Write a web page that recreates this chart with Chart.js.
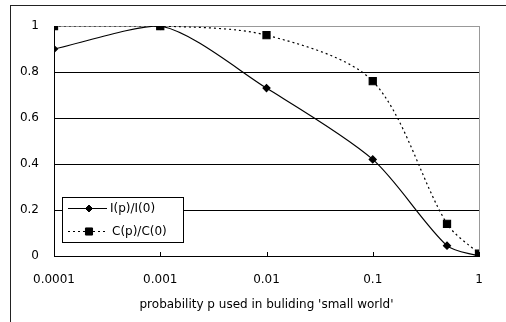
<!doctype html>
<html lang="en">
<head>
<meta charset="utf-8">
<script src="https://cdn.jsdelivr.net/npm/chart.js@4/dist/chart.umd.min.js"></script>
<style>
  html, body { margin: 0; padding: 0; background: #fff; }
  #frame { position: absolute; left: 10px; top: 5px; width: 600px; height: 400px; border: 1px solid #222; }
  #wrap { position: absolute; left: 0; top: 0; width: 506px; height: 322px; }
</style>
</head>
<body>
<div id="frame"></div>
<div id="wrap"><canvas id="chart"></canvas></div>
<script>
  // probability p (x values)
  const pValues = [0.0001, 0.001, 0.01, 0.1, 0.5, 1];
  // I(p)/I(0)
  const iRatio = [0.90, 1.0, 0.73, 0.42, 0.045, 0.0];
  // C(p)/C(0)
  const cRatio = [1.0, 1.0, 0.96, 0.76, 0.14, 0.01];
  // axis ticks
  const xTicks = [0.0001, 0.001, 0.01, 0.1, 1];
  const xTickLabels = ['0.0001', '0.001', '0.01', '0.1', '1'];
  const yTickLabels = ['0', '0.2', '0.4', '0.6', '0.8', '1'];

  const FONT = '"DejaVu Sans", sans-serif';

  // inside tick marks on the x axis + legend box inside plot
  const excelBits = {
    id: 'excelBits',
    afterDraw(chart) {
      const ctx = chart.ctx;
      const x = chart.scales.x;
      const area = chart.chartArea;
      ctx.save();
      ctx.strokeStyle = '#000';
      ctx.lineWidth = 1;
      x.ticks.forEach(t => {
        const px = Math.round(x.getPixelForValue(t.value)) + 0.5;
        ctx.beginPath();
        ctx.moveTo(px, area.bottom);
        ctx.lineTo(px, area.bottom - 4);
        ctx.stroke();
      });

      // legend
      const bx = 62.5, by = 197.5, bw = 121, bh = 45;
      ctx.fillStyle = '#fff';
      ctx.fillRect(bx, by, bw, bh);
      ctx.strokeRect(bx, by, bw, bh);
      const rows = [208, 231];
      chart.data.datasets.forEach((ds, i) => {
        const y = rows[i] + 0.5;
        ctx.save();
        ctx.strokeStyle = ds.borderColor;
        ctx.lineWidth = ds.borderWidth;
        ctx.setLineDash(ds.borderDash || []);
        ctx.beginPath();
        ctx.moveTo(68, y);
        ctx.lineTo(107, y);
        ctx.stroke();
        ctx.restore();
        ctx.fillStyle = '#000';
        ctx.strokeStyle = '#000';
        Chart.helpers.drawPoint(ctx, {
          pointStyle: ds.pointStyle,
          radius: ds.pointRadius,
          rotation: 0,
          borderWidth: 1
        }, 89, y);
        ctx.font = '12px ' + FONT;
        ctx.textBaseline = 'middle';
        ctx.textAlign = 'left';
        ctx.fillText(ds.label, i === 0 ? 110 : 112, y);
      });
      ctx.restore();
    }
  };

  new Chart(document.getElementById('chart'), {
    type: 'line',
    data: {
      datasets: [
        {
          label: 'I(p)/I(0)',
          data: pValues.map((p, i) => ({ x: p, y: iRatio[i] })),
          borderColor: '#000',
          backgroundColor: '#000',
          borderWidth: 1.2,
          pointStyle: 'rectRot',
          pointRadius: 3.5,
          tension: 0.28,
          fill: false
        },
        {
          label: 'C(p)/C(0)',
          data: pValues.map((p, i) => ({ x: p, y: cRatio[i] })),
          borderColor: '#000',
          backgroundColor: '#000',
          borderWidth: 1.2,
          borderDash: [2, 3],
          pointStyle: 'rect',
          pointRadius: 5,
          tension: 0.3,
          fill: false
        }
      ]
    },
    options: {
      responsive: true,
      maintainAspectRatio: false,
      animation: false,
      layout: { padding: { left: 0, top: 26, right: 27, bottom: 0 } },
      plugins: { legend: { display: false }, tooltip: { enabled: false } },
      scales: {
        x: {
          type: 'logarithmic',
          min: 0.0001,
          max: 1,
          afterBuildTicks: s => { s.ticks = xTicks.map(v => ({ value: v })); },
          afterFit: s => { s.height = 66; },
          border: { display: true, color: '#000', width: 1 },
          grid: {
            drawTicks: false,
            color: c => (c.tick && c.tick.value === 1 ? '#999' : 'rgba(0,0,0,0)')
          },
          ticks: {
            color: '#000',
            font: { family: FONT, size: 12 },
            padding: 17,
            maxRotation: 0,
            autoSkip: false,
            callback: (v, i) => xTickLabels[i]
          },
          title: {
            display: true,
            text: "probability p used in buliding 'small world'",
            color: '#000',
            font: { family: FONT, size: 12 },
            padding: { top: 0, bottom: 10 }
          }
        },
        y: {
          min: 0,
          max: 1,
          afterFit: s => { s.width = 54; },
          border: { display: true, color: '#000', width: 1 },
          grid: {
            drawTicks: false,
            color: c => (c.tick && c.tick.value === 1 ? '#999' : '#000')
          },
          ticks: {
            stepSize: 0.2,
            color: '#000',
            font: { family: FONT, size: 12 },
            padding: 15,
            callback: (v, i) => yTickLabels[i]
          }
        }
      }
    },
    plugins: [excelBits]
  });
</script>
</body>
</html>
